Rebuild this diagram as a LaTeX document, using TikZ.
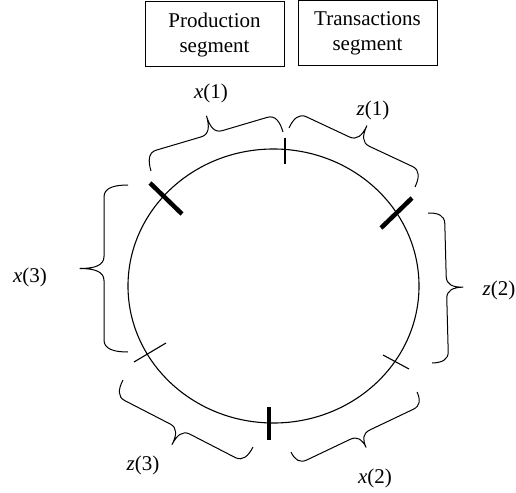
\documentclass[tikz,border=0pt]{standalone}
\usepackage{fontspec}
\setmainfont{Liberation Serif}
\usetikzlibrary{calc}
\newcommand\brpt[2]{({\x1+(#1)*(\n2)-(#2)*(\n3)},{\y1+(#1)*(\n3)+(#2)*(\n2)})}
\newcommand\mybrace[4]{%
  \draw[brc] let \p1=(#1), \p2=(#2), \n1={veclen(\x2-\x1,\y2-\y1)},
    \n2={(\x2-\x1)/\n1}, \n3={(\y2-\y1)/\n1}, \n4={#3/2} in
    \brpt{0}{0} .. controls \brpt{0}{0.6*\n4} and \brpt{0.25*#4}{\n4} .. \brpt{#4}{\n4}
    -- \brpt{\n1/2-#4}{\n4} .. controls \brpt{\n1/2-0.25*#4}{\n4} and \brpt{\n1/2}{1.4*\n4} .. \brpt{\n1/2}{#3}
    .. controls \brpt{\n1/2}{1.4*\n4} and \brpt{\n1/2+0.25*#4}{\n4} .. \brpt{\n1/2+#4}{\n4}
    -- \brpt{\n1-#4}{\n4} .. controls \brpt{\n1-0.25*#4}{\n4} and \brpt{\n1}{0.6*\n4} .. \brpt{\n1}{0};
}
\tikzset{
  brc/.style={line width=1pt, line join=round},
  thintick/.style={line width=1.1pt},
  thicktick/.style={line width=4.5pt},
  segbox/.style={draw, line width=1pt, minimum width=139pt, minimum height=65pt, inner sep=0pt, align=center},
  lbl/.style={inner sep=0pt}
}
\begin{document}
\begin{tikzpicture}[x=1pt,y=-1pt,font=\fontsize{21}{25}\selectfont]
\useasboundingbox (0,0) rectangle (516,492);
% boxes
\node[segbox] (prod) at (214.5,34.5) {Production\\segment};
\node[segbox] (trans) at (367.5,33) {Transactions\\segment};
% circle
\draw[line width=1.1pt] (273.5,286) ellipse [x radius=145.5, y radius=137];
% ticks
\draw[thintick] (285,138) coordinate (t1a) -- (285,164) coordinate (t1b);
\draw[thicktick] (150,183) coordinate (t2a) -- (182,214) coordinate (t2b);
\draw[thicktick] (412,198) coordinate (t3a) -- (381,228) coordinate (t3b);
\draw[thintick] (383,355) coordinate (t4a) -- (409,369) coordinate (t4b);
\draw[thicktick] (269,407) coordinate (t5a) -- (269,440) coordinate (t5b);
\draw[thintick] (134,362) coordinate (t6a) -- (166,343) coordinate (t6b);
% brace end points
\coordinate (x1a) at (151,171); \coordinate (x1b) at (283,132);
\coordinate (z1a) at (289,128); \coordinate (z1b) at (415,187);
\coordinate (z2a) at (428,213); \coordinate (z2b) at (432,363);
\coordinate (x2a) at (417,392); \coordinate (x2b) at (291,452);
\coordinate (z3a) at (253,447); \coordinate (z3b) at (123,380);
\coordinate (x3a) at (128,352); \coordinate (x3b) at (128,185);
\mybrace{x1a}{x1b}{37}{11}
\mybrace{z1a}{z1b}{35}{11}
\mybrace{z2a}{z2b}{33}{11}
\mybrace{x2a}{x2b}{28}{11}
\mybrace{z3a}{z3b}{35}{11}
\mybrace{x3a}{x3b}{48}{12}
% labels
\node[lbl] (lx1) at (211,93) {\textit{x}(1)};
\node[lbl] (lz1) at (373,110) {\textit{z}(1)};
\node[lbl] (lz2) at (499,290) {\textit{z}(2)};
\node[lbl] (lx2) at (375,478) {\textit{x}(2)};
\node[lbl] (lz3) at (143,465) {\textit{z}(3)};
\node[lbl] (lx3) at (30,277) {\textit{x}(3)};
\end{tikzpicture}
\end{document}
